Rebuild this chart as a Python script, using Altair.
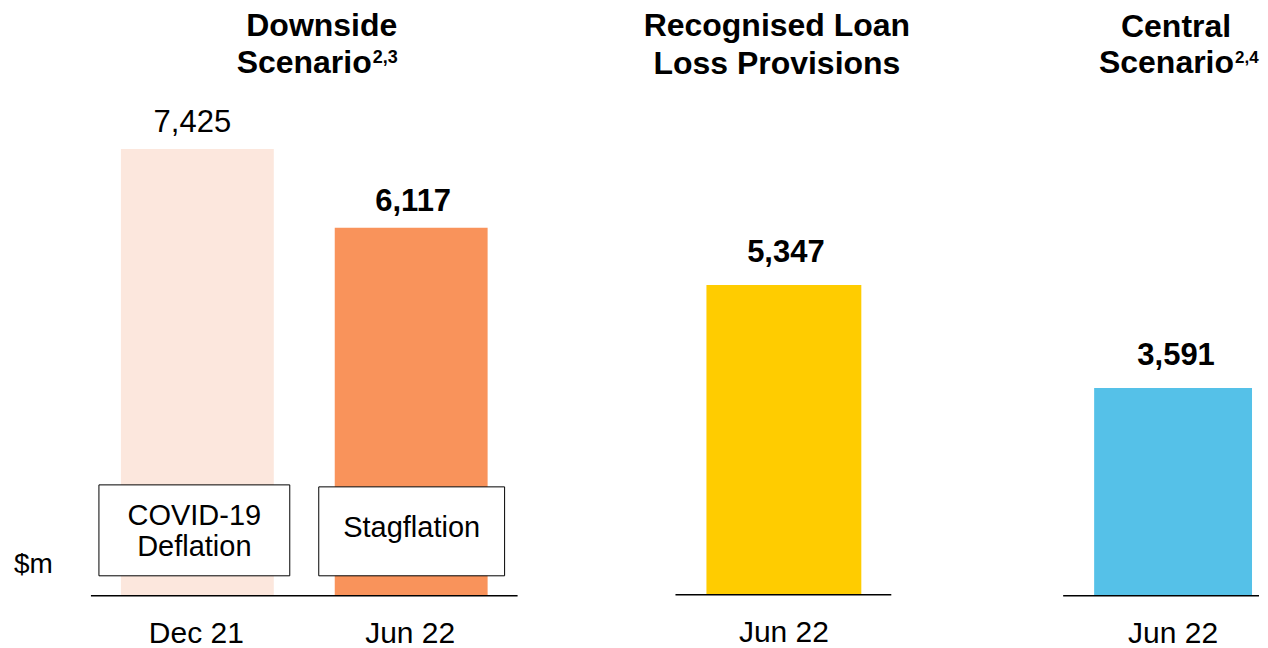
import altair as alt
import pandas as pd

# ---------------- data ----------------
downside_periods = ["Dec 21", "Jun 22"]
downside_values = [7425, 6117]
downside_scenarios = ["COVID-19\nDeflation", "Stagflation"]
downside_colors = ["#FCE7DD", "#F9935B"]

recognised_periods = ["Jun 22"]
recognised_values = [5347]

central_periods = ["Jun 22"]
central_values = [3591]

downside_title = ["Downside", "Scenario"]
downside_note = "2,3"
recognised_title = ["Recognised Loan", "Loss Provisions"]
central_title = ["Central", "Scenario"]
central_note = "2,4"
unit_label = "$m"

FONT = "Liberation Sans"
H = 632
AXIS_Y = 635


def yscale(base_px, units_per_px):
    return alt.Scale(domain=[-(H - base_px) * units_per_px, base_px * units_per_px], nice=False)


def label(text, x, y, size, bold=False, align="center"):
    return alt.Chart(pd.DataFrame({"t": [text]})).mark_text(
        align=align, baseline="alphabetic", fontSize=size,
        fontWeight="bold" if bold else "normal", color="black", font=FONT
    ).encode(x=alt.value(x), y=alt.value(y), text="t:N")


def rule(ys, x1, x2):
    return alt.Chart(pd.DataFrame({"z": [0]})).mark_rule(color="black", strokeWidth=1.6).encode(
        y=alt.Y("z:Q", scale=ys, axis=None), x=alt.value(x1), x2=alt.value(x2))


# ---------------- panel 1: downside ----------------
W1 = 593
df1 = pd.DataFrame({"period": downside_periods, "value": downside_values, "scenario": downside_scenarios})
xs1 = alt.Scale(domain=downside_periods, paddingInner=0.28505, paddingOuter=0.52804)
ys1 = yscale(588, 16.61)
X1 = alt.X("period:N", scale=xs1, axis=None, sort=downside_periods)
Y1 = alt.Y("value:Q", scale=ys1, axis=None)
b1 = alt.Chart(df1)

bars1 = b1.mark_bar().encode(
    x=X1, y=Y1,
    color=alt.Color("period:N", scale=alt.Scale(domain=downside_periods, range=downside_colors), legend=None))
val1a = b1.transform_filter(alt.datum.period == downside_periods[0]).mark_text(
    dy=-17, dx=-5, fontSize=31, baseline="alphabetic", font=FONT, color="black").encode(
    x=X1, y=Y1, text=alt.Text("value:Q", format=","))
val1b = b1.transform_filter(alt.datum.period == downside_periods[1]).mark_text(
    dy=-17, dx=2, fontSize=31, baseline="alphabetic", font=FONT, fontWeight="bold", color="black").encode(
    x=X1, y=Y1, text=alt.Text("value:Q", format=","))
box1a = b1.transform_filter(alt.datum.period == downside_periods[0]).mark_bar(
    fill="white", stroke="black", strokeWidth=1, width=191, xOffset=-3).encode(
    x=X1, y=alt.value(477), y2=alt.value(568))
box1b = b1.transform_filter(alt.datum.period == downside_periods[1]).mark_bar(
    fill="white", stroke="black", strokeWidth=1, width=186, xOffset=0.5).encode(
    x=X1, y=alt.value(479), y2=alt.value(568))
txt1a = b1.transform_filter(alt.datum.period == downside_periods[0]).mark_text(
    lineBreak="\n", lineHeight=31, fontSize=29, baseline="alphabetic", font=FONT, color="black", dx=-3).encode(
    x=X1, y=alt.value(517), text="scenario:N")
txt1b = b1.transform_filter(alt.datum.period == downside_periods[1]).mark_text(
    fontSize=29, baseline="alphabetic", font=FONT, color="black", dx=0.5).encode(
    x=X1, y=alt.value(529), text="scenario:N")
axis1 = b1.mark_text(fontSize=30, baseline="alphabetic", font=FONT, color="black", dx=-1).encode(
    x=X1, y=alt.value(AXIS_Y), text="period:N")

p1 = alt.layer(
    bars1, box1a, box1b, txt1a, txt1b, val1a, val1b, axis1,
    rule(ys1, 83, 510),
    label(unit_label, 6, 565, 28, align="left"),
    label(downside_title[0], 314, 28, 32, bold=True),
    label(downside_title[1], 364, 65, 32, bold=True, align="right"),
    label(downside_note, 365, 55, 18, bold=True, align="left"),
).properties(width=W1, height=H)

# ---------------- panel 2: recognised ----------------
W2 = 367
df2 = pd.DataFrame({"period": recognised_periods, "value": recognised_values})
xs2 = alt.Scale(domain=recognised_periods, paddingInner=0, paddingOuter=0.6839)
ys2 = yscale(587, 17.25)
X2 = alt.X("period:N", scale=xs2, axis=None)
Y2 = alt.Y("value:Q", scale=ys2, axis=None)
b2 = alt.Chart(df2)
p2 = alt.layer(
    b2.mark_bar(color="#FFCC00").encode(x=X2, y=Y2),
    b2.mark_text(dy=-23, dx=2, fontSize=31, baseline="alphabetic", font=FONT, fontWeight="bold", color="black").encode(
        x=X2, y=Y2, text=alt.Text("value:Q", format=",")),
    b2.mark_text(fontSize=30, baseline="alphabetic", font=FONT, color="black").encode(
        x=X2, y=alt.value(AXIS_Y - 1), text="period:N"),
    rule(ys2, 75, 291),
    label(recognised_title[0], 176.5, 28, 32, bold=True),
    label(recognised_title[1], 176.5, 66, 32, bold=True),
).properties(width=W2, height=H)

# ---------------- panel 3: central ----------------
W3 = 292
df3 = pd.DataFrame({"period": central_periods, "value": central_values})
xs3 = alt.Scale(domain=central_periods, paddingInner=0, paddingOuter=0.4241, align=0.9478)
ys3 = yscale(588, 17.26)
X3 = alt.X("period:N", scale=xs3, axis=None)
Y3 = alt.Y("value:Q", scale=ys3, axis=None)
b3 = alt.Chart(df3)
p3 = alt.layer(
    b3.mark_bar(color="#55C1E8").encode(x=X3, y=Y3),
    b3.mark_text(dy=-23, dx=3, fontSize=31, baseline="alphabetic", font=FONT, fontWeight="bold", color="black").encode(
        x=X3, y=Y3, text=alt.Text("value:Q", format=",")),
    b3.mark_text(fontSize=30, baseline="alphabetic", font=FONT, color="black").encode(
        x=X3, y=alt.value(AXIS_Y), text="period:N"),
    rule(ys3, 96, W3),
    label(central_title[0], 209, 29, 32, bold=True),
    label(central_title[1], 267, 65, 32, bold=True, align="right"),
    label(central_note, 268, 55, 17, bold=True, align="left"),
).properties(width=W3, height=H)

chart = alt.hconcat(p1, p2, p3, spacing=0, padding=0, bounds="flush").configure_view(
    stroke=None).configure_axis(disable=True).configure_text(font=FONT)

chart.save("out.html", embed_options={"renderer": "svg", "actions": False})
